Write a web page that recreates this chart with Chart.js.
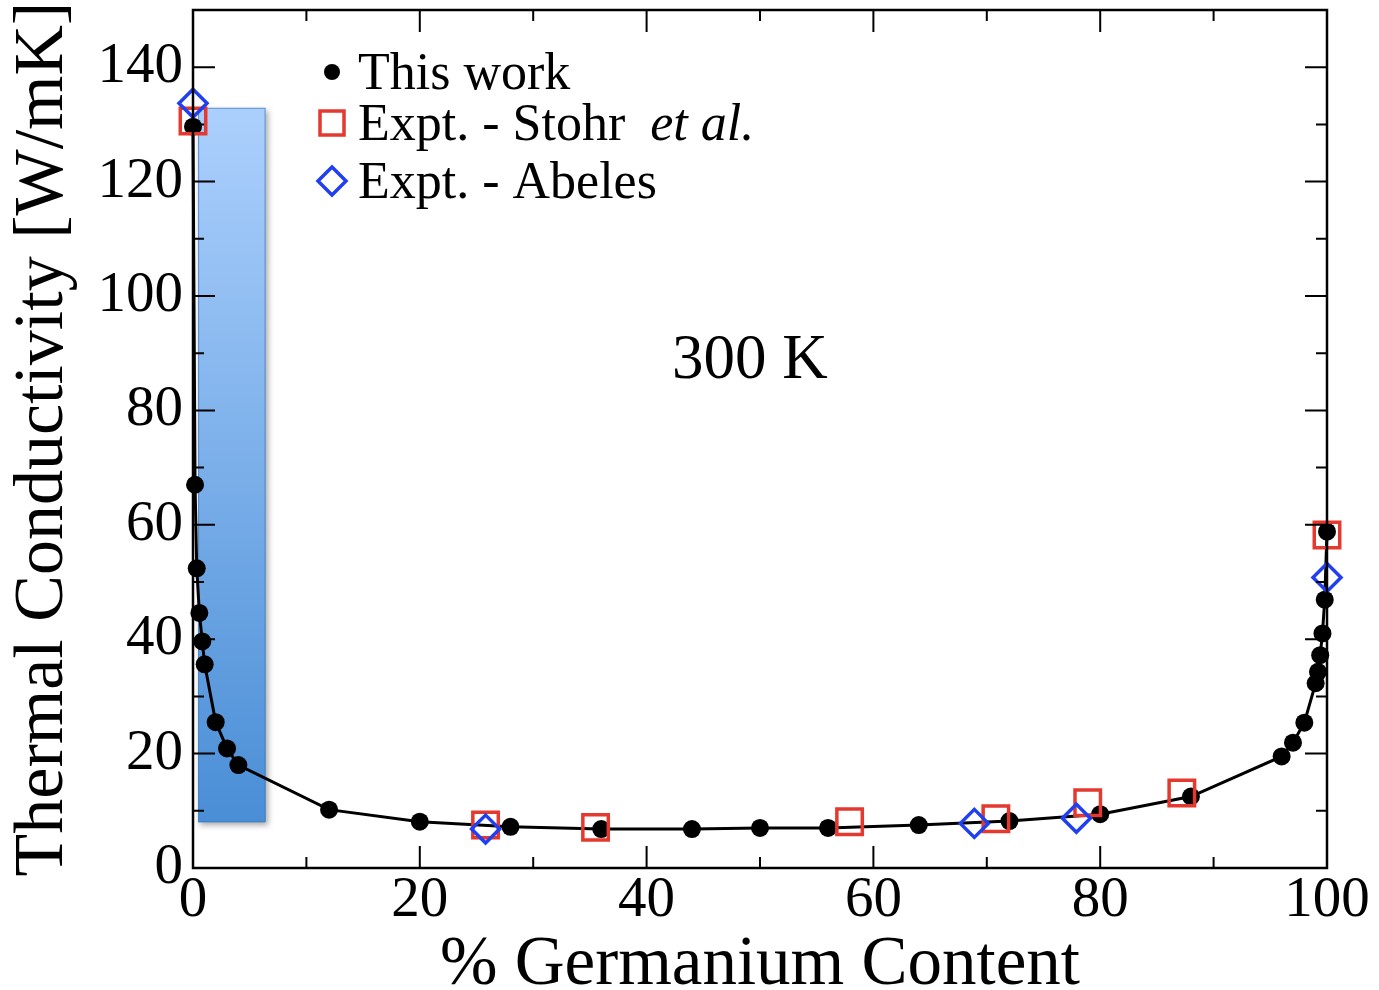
<!DOCTYPE html>
<html>
<head>
<meta charset="utf-8">
<script src="https://cdn.jsdelivr.net/npm/chart.js@4.4.0/dist/chart.umd.min.js"></script>
<style>
  html, body { margin: 0; padding: 0; background: #fff; }
  #wrap { width: 1379px; height: 990px; }
</style>
</head>
<body>
<div id="wrap"><canvas id="kappaChart" width="1379" height="990"></canvas></div>
<script>
// computed values (this work)
const workGe    = [0, 0.18, 0.33, 0.56, 0.82, 1.03, 2.0, 3.0, 4.0, 12, 20, 28, 36, 44, 50, 56, 64, 72, 80, 88, 96, 97, 98, 99, 99.2, 99.4, 99.6, 99.8, 100];
const workKappa = [129.6, 67.0, 52.4, 44.6, 39.6, 35.6, 25.5, 20.9, 18.0, 10.2, 8.1, 7.2, 6.8, 6.8, 7.0, 7.0, 7.5, 8.2, 9.4, 12.5, 19.5, 21.9, 25.4, 32.3, 34.3, 37.2, 41.0, 46.9, 58.8];

// experiments
const stohrGe     = [0, 25.8, 35.5, 57.9, 70.8, 78.9, 87.2, 100];
const stohrKappa  = [130.6, 7.5, 7.1, 8.1, 8.6, 11.4, 13.1, 58.2];
const abelesGe    = [0, 25.8, 68.9, 77.9, 100];
const abelesKappa = [133.7, 6.8, 7.8, 8.7, 50.8];

// shaded composition band
const bandGe    = [0.45, 6.4];
const bandKappa = [8.0, 132.9];

const xMajor = [0, 20, 40, 60, 80, 100];
const xMinor = [10, 30, 50, 70, 90];
const yMajor = [0, 20, 40, 60, 80, 100, 120, 140];
const yMinor = [10, 30, 50, 70, 90, 110, 130];

const tempLabel = '300 K';
const tempPos = [49.1, 88.6];

const SERIF = '"Liberation Serif", "DejaVu Serif", serif';

const toPts = (xs, ys) => xs.map((x, i) => ({ x: x, y: ys[i] }));

// gradient band behind the curve
const bandPlugin = {
  id: 'band',
  beforeDatasetsDraw(chart) {
    const { ctx, scales: { x, y } } = chart;
    const l = x.getPixelForValue(bandGe[0]), r = x.getPixelForValue(bandGe[1]);
    const t = y.getPixelForValue(bandKappa[1]), b = y.getPixelForValue(bandKappa[0]);
    ctx.save();
    const g = ctx.createLinearGradient(0, t, 0, b);
    g.addColorStop(0, '#acd0fd');
    g.addColorStop(1, '#4a8ed6');
    ctx.shadowColor = 'rgba(0,0,0,0.35)';
    ctx.shadowBlur = 6;
    ctx.shadowOffsetX = 2;
    ctx.shadowOffsetY = 3;
    ctx.fillStyle = g;
    ctx.fillRect(l, t, r - l, b - t);
    ctx.shadowColor = 'transparent';
    ctx.strokeStyle = 'rgba(60,120,190,0.7)';
    ctx.lineWidth = 1;
    ctx.strokeRect(l + 0.5, t + 0.5, r - l - 1, b - t - 1);
    ctx.restore();
  }
};

// frame, inward ticks on all sides, legend and annotation
const framePlugin = {
  id: 'frame',
  afterDraw(chart) {
    const { ctx, chartArea: a, scales: { x, y } } = chart;
    ctx.save();
    ctx.strokeStyle = '#000';
    ctx.lineWidth = 2.5;
    ctx.strokeRect(a.left, a.top, a.right - a.left, a.bottom - a.top);

    ctx.lineWidth = 2;
    ctx.beginPath();
    const tickX = (v, len) => {
      const px = x.getPixelForValue(v);
      ctx.moveTo(px, a.bottom); ctx.lineTo(px, a.bottom - len);
      ctx.moveTo(px, a.top); ctx.lineTo(px, a.top + len);
    };
    const tickY = (v, len) => {
      const py = y.getPixelForValue(v);
      ctx.moveTo(a.left, py); ctx.lineTo(a.left + len, py);
      ctx.moveTo(a.right, py); ctx.lineTo(a.right - len, py);
    };
    xMajor.forEach(v => tickX(v, 22));
    xMinor.forEach(v => tickX(v, 11));
    yMajor.forEach(v => tickY(v, 22));
    yMinor.forEach(v => tickY(v, 11));
    ctx.stroke();

    // annotation
    ctx.fillStyle = '#000';
    ctx.font = '63px ' + SERIF;
    ctx.textAlign = 'center';
    ctx.textBaseline = 'middle';
    ctx.fillText(tempLabel, x.getPixelForValue(tempPos[0]), y.getPixelForValue(tempPos[1]));

    // legend
    const lx = 332, tx = 358, rows = [72, 123, 181];
    ctx.textAlign = 'left';
    ctx.textBaseline = 'alphabetic';
    chart.data.datasets.forEach((ds, i) => {
      const cy = rows[i];
      ctx.beginPath();
      if (ds.pointStyle === 'rect') {
        ctx.lineWidth = 3.5;
        ctx.strokeStyle = ds.borderColor;
        ctx.strokeRect(lx - 12, cy - 12, 24, 24);
      } else if (ds.pointStyle === 'rectRot') {
        ctx.lineWidth = 3.5;
        ctx.strokeStyle = ds.borderColor;
        ctx.moveTo(lx - 14, cy); ctx.lineTo(lx, cy - 14);
        ctx.lineTo(lx + 14, cy); ctx.lineTo(lx, cy + 14);
        ctx.closePath();
        ctx.stroke();
      } else {
        ctx.fillStyle = '#000';
        ctx.arc(lx, cy, 8, 0, Math.PI * 2);
        ctx.fill();
      }
      ctx.fillStyle = '#000';
      const base = cy + 17;
      if (ds.label.endsWith('et al.')) {
        const head = ds.label.replace('et al.', '');
        ctx.font = '52px ' + SERIF;
        ctx.fillText(head, tx, base);
        const w = ctx.measureText(head).width;
        ctx.font = 'italic 52px ' + SERIF;
        ctx.fillText('et al.', tx + w + 12, base);
      } else {
        ctx.font = '52px ' + SERIF;
        ctx.fillText(ds.label, tx, base);
      }
    });
    ctx.restore();
  }
};

const chart = new Chart(document.getElementById('kappaChart'), {
  type: 'scatter',
  data: {
    datasets: [
      {
        label: 'This work',
        data: toPts(workGe, workKappa),
        showLine: true,
        clip: false,
        borderColor: '#000',
        backgroundColor: '#000',
        borderWidth: 3,
        pointRadius: 9,
        pointBorderWidth: 0,
        pointStyle: 'circle',
        order: 3
      },
      {
        label: 'Expt. - Stohr et al.',
        data: toPts(stohrGe, stohrKappa),
        showLine: false,
        clip: false,
        borderColor: '#e4392f',
        backgroundColor: 'rgba(0,0,0,0)',
        pointStyle: 'rect',
        pointRadius: 18,
        pointBorderWidth: 3.5,
        order: 2
      },
      {
        label: 'Expt. - Abeles',
        data: toPts(abelesGe, abelesKappa),
        showLine: false,
        clip: false,
        borderColor: '#1f3ff0',
        backgroundColor: 'rgba(0,0,0,0)',
        pointStyle: 'rectRot',
        pointRadius: 14,
        pointBorderWidth: 3.5,
        order: 1
      }
    ]
  },
  options: {
    responsive: false,
    animation: false,
    layout: { autoPadding: false, padding: { top: 10, right: 52, left: 0, bottom: 0 } },
    plugins: { legend: { display: false }, tooltip: { enabled: false } },
    scales: {
      x: {
        type: 'linear',
        min: 0, max: 100,
        afterBuildTicks: s => { s.ticks = xMajor.map(v => ({ value: v })); },
        afterFit: s => { s.height = 122; s.paddingLeft = 0; s.paddingRight = 0; },
        grid: { display: false },
        border: { display: false },
        ticks: { color: '#000', font: { family: SERIF, size: 57 }, padding: -9, maxRotation: 0 },
        title: { display: true, text: '% Germanium Content', color: '#000',
                 font: { family: SERIF, size: 69 }, padding: { top: 0, bottom: -17 } }
      },
      y: {
        type: 'linear',
        min: 0, max: 150,
        afterBuildTicks: s => { s.ticks = yMajor.map(v => ({ value: v })); },
        afterFit: s => { s.width = 193; s.paddingTop = 0; s.paddingBottom = 0; },
        grid: { display: false },
        border: { display: false },
        ticks: { color: '#000', font: { family: SERIF, size: 57 }, padding: 2 },
        title: { display: true, text: 'Thermal Conductivity [W/mK]', color: '#000',
                 font: { family: SERIF, size: 70 }, padding: { top: 2, bottom: 0 } }
      }
    }
  },
  plugins: [bandPlugin, framePlugin]
});
</script>
</body>
</html>
